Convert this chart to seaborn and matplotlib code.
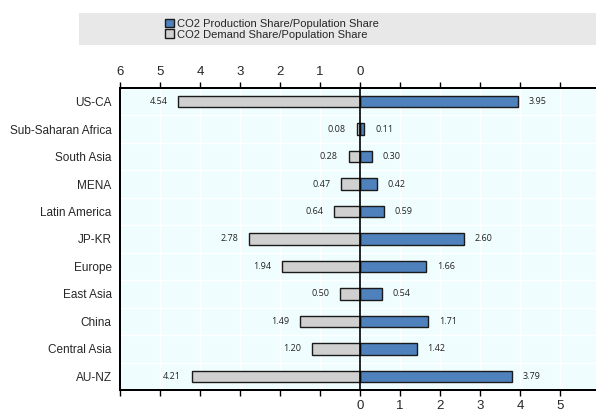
import matplotlib
matplotlib.use('Agg')
import matplotlib.pyplot as plt
from matplotlib.patches import Patch
import pandas as pd
import seaborn as sns

# Data
regions = ['US-CA', 'Sub-Saharan Africa', 'South Asia', 'MENA', 'Latin America',
           'JP-KR', 'Europe', 'East Asia', 'China', 'Central Asia', 'AU-NZ']
production = [3.95, 0.11, 0.30, 0.42, 0.59, 2.60, 1.66, 0.54, 1.71, 1.42, 3.79]
demand = [4.54, 0.08, 0.28, 0.47, 0.64, 2.78, 1.94, 0.50, 1.49, 1.20, 4.21]

df = pd.DataFrame({'region': regions, 'production': production,
                   'demand_neg': [-d for d in demand]})

sns.set_style('white')
plt.rcParams['font.family'] = ['Liberation Sans', 'DejaVu Sans']

fig = plt.figure(figsize=(5.96, 4.13), dpi=100)
ax = fig.add_axes([120 / 596, 1 - 390 / 413, 480 / 596, 302 / 413])
ax.set_facecolor('#f0fdfe')

blue = '#4f81bd'
grey = '#d0d0d0'
sns.barplot(data=df, x='production', y='region', orient='h', color=blue, saturation=1,
            width=0.42, edgecolor='#1a1a1a', linewidth=1.0, ax=ax, zorder=3)
sns.barplot(data=df, x='demand_neg', y='region', orient='h', color=grey, saturation=1,
            width=0.42, edgecolor='#1a1a1a', linewidth=1.0, ax=ax, zorder=3)

ax.set_xlim(-6, 6)
ax.set_ylim(len(regions) - 0.5, -0.5)

# grid
for v in range(-5, 6):
    ax.axvline(v, color='white', lw=0.9, zorder=1)
for i in range(len(regions) - 1):
    ax.axhline(i + 0.5, color='white', lw=0.9, zorder=1)
ax.axvline(0, color='black', lw=1.2, zorder=4)

# value labels
for i, (p, d) in enumerate(zip(production, demand)):
    ax.text(p + 0.27, i, f'{p:.2f}', va='center', ha='left', fontsize=6.5,
            family=['Open Sans', 'DejaVu Sans'], color='#222222')
    ax.text(-d - 0.27, i, f'{d:.2f}', va='center', ha='right', fontsize=6.5,
            family=['Open Sans', 'DejaVu Sans'], color='#222222')

# bottom axis: labels 0..5
ax.set_xticks(range(-6, 6))
ax.set_xticklabels(['' if t < 0 else str(t) for t in range(-6, 6)], fontsize=9.5)
ax.tick_params(axis='x', direction='out', length=4, width=1, color='black',
               pad=3, bottom=True, top=False)
ax.set_xlabel('')
ax.set_ylabel('')
ax.tick_params(axis='y', length=0, labelsize=8.5, pad=6)

# top axis: labels 6..0 on the left half
top = ax.twiny()
top.set_xlim(ax.get_xlim())
top.set_xticks(range(-6, 6))
top.set_xticklabels([str(-t) if t <= 0 else '' for t in range(-6, 6)], fontsize=9.5)
top.tick_params(axis='x', direction='out', length=4, width=1, color='black', pad=3)

for a in (ax, top):
    for side in ['top', 'bottom', 'left']:
        a.spines[side].set_visible(True)
        a.spines[side].set_color('black')
        a.spines[side].set_linewidth(1.4)
    a.spines['right'].set_visible(False)

# legend box
handles = [Patch(facecolor=blue, edgecolor='#1a1a1a', label='CO2 Production Share/Population Share'),
           Patch(facecolor=grey, edgecolor='#1a1a1a', label='CO2 Demand Share/Population Share')]
fig.patches.append(plt.Rectangle((79 / 596, 1 - 45 / 413), 517 / 596, 32 / 413,
                                 transform=fig.transFigure, facecolor='#e8e8e8',
                                 edgecolor='none', zorder=0))
fig.legend(handles=handles, loc='upper left', bbox_to_anchor=(157 / 596, 1 - 11 / 413),
           frameon=False, fontsize=8, handlelength=0.8, handleheight=0.8,
           handletextpad=0.3, labelspacing=0.05, borderpad=0.2)

fig.savefig('out.png', dpi=100)
